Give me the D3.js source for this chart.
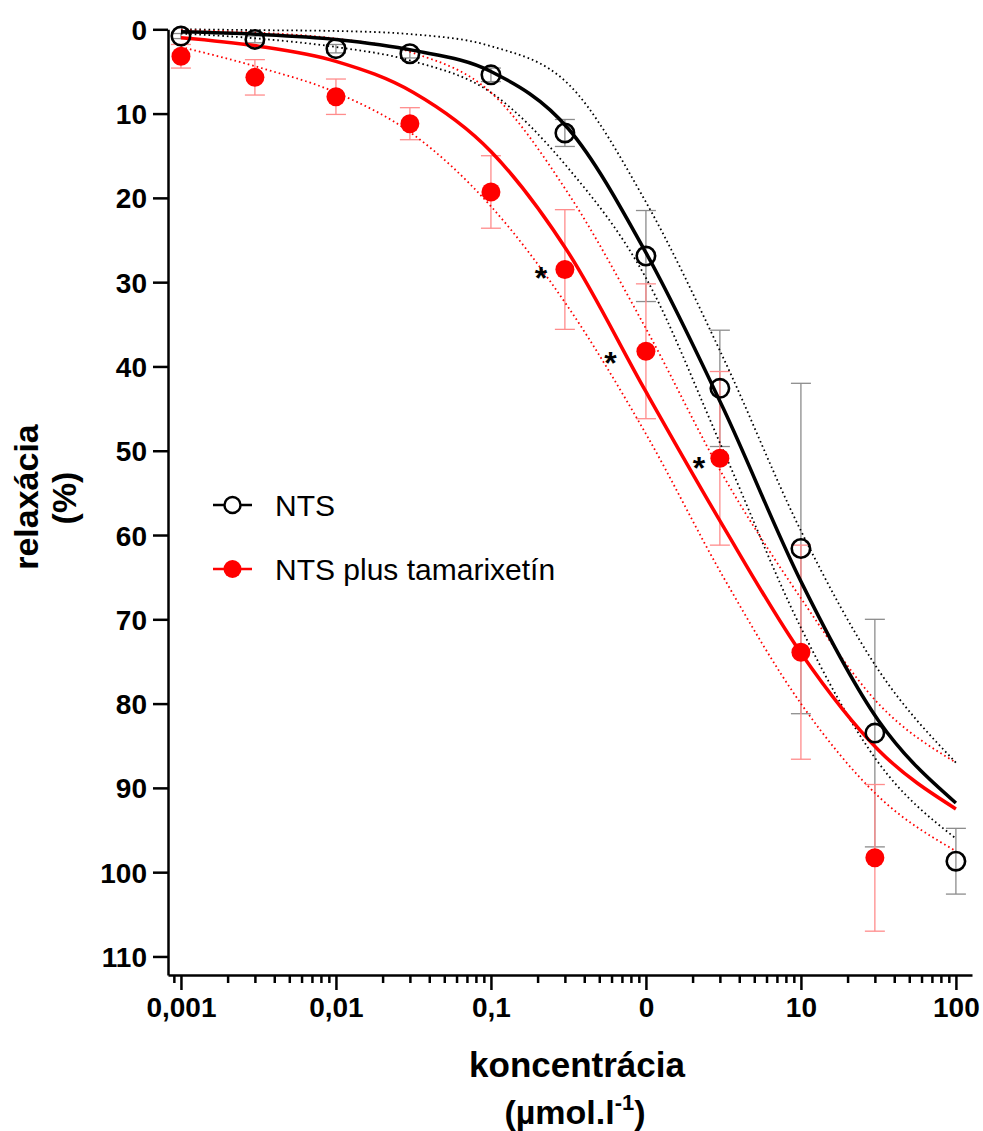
<!DOCTYPE html>
<html>
<head>
<meta charset="utf-8">
<script src="https://cdn.jsdelivr.net/npm/d3@7"></script>
<style>
  body { margin: 0; background: #fff; }
  svg { display: block; font-family: "Liberation Sans", Arial, sans-serif; }
</style>
</head>
<body>
<svg width="983" height="1131"></svg>
<script>
// measured points (concentration in umol/l, relaxation in %)
var conc = [0.001, 0.003, 0.01, 0.03, 0.1, 0.3, 1, 3, 10, 30, 100];
var ntsMean = [0.8, 1.2, 2.3, 2.9, 5.4, 12.3, 26.9, 42.6, 61.6, 83.5, 98.7];
var ntsErr = [0.3, 0.4, 0.5, 0.5, 0.8, 1.6, 5.4, 6.9, 19.6, 13.5, 3.9];
var tamConc = [0.001, 0.003, 0.01, 0.03, 0.1, 0.3, 1, 3, 10, 30];
var tamMean = [3.2, 5.7, 8.0, 11.2, 19.3, 28.5, 38.2, 50.9, 73.9, 98.3];
var tamErr = [1.4, 2.1, 2.1, 1.9, 4.3, 7.1, 8.0, 10.3, 12.7, 8.7];

// fitted curves + confidence bands
var fitX = [0.001, 0.00316, 0.01, 0.0316, 0.1, 0.316, 1, 3.16, 10, 31.6, 100];
var ntsFit = [0.3, 0.6, 1.2, 2.5, 5.0, 11.8, 26.5, 45, 65.5, 82, 91.8];
var ntsHi = [0.0, 0.1, 0.2, 0.6, 2.0, 6.5, 20.5, 39, 59.5, 76, 87];
var ntsLo = [0.5, 1.1, 2.1, 3.8, 7.5, 16.5, 29.5, 50, 71, 87, 96];
var tamFit = [1.0, 2.0, 3.8, 7.5, 14.5, 26.5, 43, 59, 74, 85.5, 92.5];
var tamHi = [0.1, 0.4, 1.1, 2.8, 7.5, 19.5, 35.5, 53, 67.5, 80, 87];
var tamLo = [2.1, 4.5, 7.5, 12.5, 21, 33, 48, 65, 80, 91, 97.5];

// significance marks
var sigX = [0.21, 0.59, 2.2];
var sigY = [28.5, 38.5, 51];

var xTicks = [0.001, 0.01, 0.1, 1, 10, 100];
var xLabels = ["0,001", "0,01", "0,1", "0", "10", "100"];
var yTicks = [0, 10, 20, 30, 40, 50, 60, 70, 80, 90, 100, 110];

var svg = d3.select("svg");
var red = "#ff0000";

var x = d3.scaleLog().domain([0.000825, 127]).range([168, 972]);
var y = d3.scaleLinear().domain([0, 112.2]).range([29.3, 975]);

// minor ticks 2..9 in every decade
var minor = [0.0009];
for (var k = -3; k <= 1; k++) {
  for (var m = 2; m <= 9; m++) minor.push(m * Math.pow(10, k));
}

var gMinor = svg.append("g")
    .attr("transform", "translate(0,975)")
    .call(d3.axisBottom(x).tickValues(minor).tickSize(8).tickFormat(""));
gMinor.select(".domain").remove();

var gx = svg.append("g")
    .attr("transform", "translate(0,975)")
    .call(d3.axisBottom(x).tickValues(xTicks).tickSize(15).tickSizeOuter(0).tickPadding(7)
      .tickFormat(function(d, i) { return xLabels[i]; }));

var gy = svg.append("g")
    .attr("transform", "translate(168,0)")
    .call(d3.axisLeft(y).tickValues(yTicks).tickSize(15).tickSizeOuter(0).tickPadding(6));

svg.selectAll(".domain, .tick line").attr("stroke", "#000").attr("stroke-width", 2.5);
svg.selectAll(".tick text")
    .attr("fill", "#000")
    .style("font-size", "28px")
    .style("font-weight", "bold");
gy.selectAll(".tick text").attr("dy", "0.36em");

// axis titles
svg.append("text")
    .attr("x", 577).attr("y", 1077)
    .attr("text-anchor", "middle")
    .style("font-size", "35px").style("font-weight", "bold")
    .text("koncentrácia");

var unit = svg.append("text")
    .attr("x", 575).attr("y", 1124)
    .attr("text-anchor", "middle")
    .style("font-size", "34px").style("font-weight", "bold");
unit.append("tspan").text("(µmol.l");
unit.append("tspan").attr("dy", -14).style("font-size", "22px").text("-1");
unit.append("tspan").attr("dy", 14).text(")");

svg.append("text")
    .attr("transform", "translate(38,497) rotate(-90)")
    .attr("text-anchor", "middle")
    .style("font-size", "34px").style("font-weight", "bold")
    .text("relaxácia");
svg.append("text")
    .attr("transform", "translate(76,498) rotate(-90)")
    .attr("text-anchor", "middle")
    .style("font-size", "34px").style("font-weight", "bold")
    .text("(%)");

// error bars
function errorBars(xs, ms, es, color) {
  var g = svg.append("g").attr("stroke", color).attr("stroke-width", 1.3).attr("fill", "none");
  xs.forEach(function(c, i) {
    var cx = x(c), y0 = y(ms[i] - es[i]), y1 = y(ms[i] + es[i]);
    g.append("line").attr("x1", cx).attr("x2", cx).attr("y1", y0).attr("y2", y1);
    g.append("line").attr("x1", cx - 10).attr("x2", cx + 10).attr("y1", y0).attr("y2", y0);
    g.append("line").attr("x1", cx - 10).attr("x2", cx + 10).attr("y1", y1).attr("y2", y1);
  });
}
errorBars(conc, ntsMean, ntsErr, "#8c8c8c");
errorBars(tamConc, tamMean, tamErr, "#ff8c8c");

// curves
var line = d3.line()
    .x(function(d) { return x(d[0]); })
    .y(function(d) { return y(d[1]); })
    .curve(d3.curveMonotoneX);

function curve(vals, color, width, dotted) {
  var p = svg.append("path")
      .datum(fitX.map(function(c, i) { return [c, vals[i]]; }))
      .attr("d", line)
      .attr("fill", "none")
      .attr("stroke", color)
      .attr("stroke-width", width);
  if (dotted) p.attr("stroke-dasharray", "1.6,3");
}
curve(ntsHi, "#000", 1.8, true);
curve(ntsLo, "#000", 1.8, true);
curve(tamHi, red, 1.8, true);
curve(tamLo, red, 1.8, true);
curve(tamFit, red, 3.5, false);
curve(ntsFit, "#000", 3.5, false);

// points
svg.append("g").selectAll("circle")
    .data(tamConc).enter().append("circle")
    .attr("cx", function(d) { return x(d); })
    .attr("cy", function(d, i) { return y(tamMean[i]); })
    .attr("r", 9.5)
    .attr("fill", red);

svg.append("g").selectAll("circle")
    .data(conc).enter().append("circle")
    .attr("cx", function(d) { return x(d); })
    .attr("cy", function(d, i) { return y(ntsMean[i]); })
    .attr("r", 9.2)
    .attr("fill", "none")
    .attr("stroke", "#000")
    .attr("stroke-width", 2.6);

// asterisks
svg.append("g").selectAll("text")
    .data(sigX).enter().append("text")
    .attr("x", function(d) { return x(d); })
    .attr("y", function(d, i) { return y(sigY[i]); })
    .attr("dy", "0.62em")
    .attr("text-anchor", "middle")
    .style("font-size", "32px").style("font-weight", "bold")
    .text("*");

// legend
var legend = [
  {label: "NTS", color: "#000", open: true, y: 505},
  {label: "NTS plus tamarixetín", color: red, open: false, y: 569}
];
var lg = svg.append("g").selectAll("g").data(legend).enter().append("g");
lg.append("line")
    .attr("x1", 213).attr("x2", 252)
    .attr("y1", function(d) { return d.y; }).attr("y2", function(d) { return d.y; })
    .attr("stroke", function(d) { return d.color; })
    .attr("stroke-width", 2.6);
lg.append("circle")
    .attr("cx", 232.5).attr("cy", function(d) { return d.y; })
    .attr("r", function(d) { return d.open ? 8 : 9; })
    .attr("fill", function(d) { return d.open ? "#fff" : d.color; })
    .attr("stroke", function(d) { return d.open ? d.color : "none"; })
    .attr("stroke-width", 2.4);
lg.append("text")
    .attr("x", 275).attr("y", function(d) { return d.y + 11; })
    .style("font-size", "30px")
    .text(function(d) { return d.label; });
</script>
</body>
</html>
